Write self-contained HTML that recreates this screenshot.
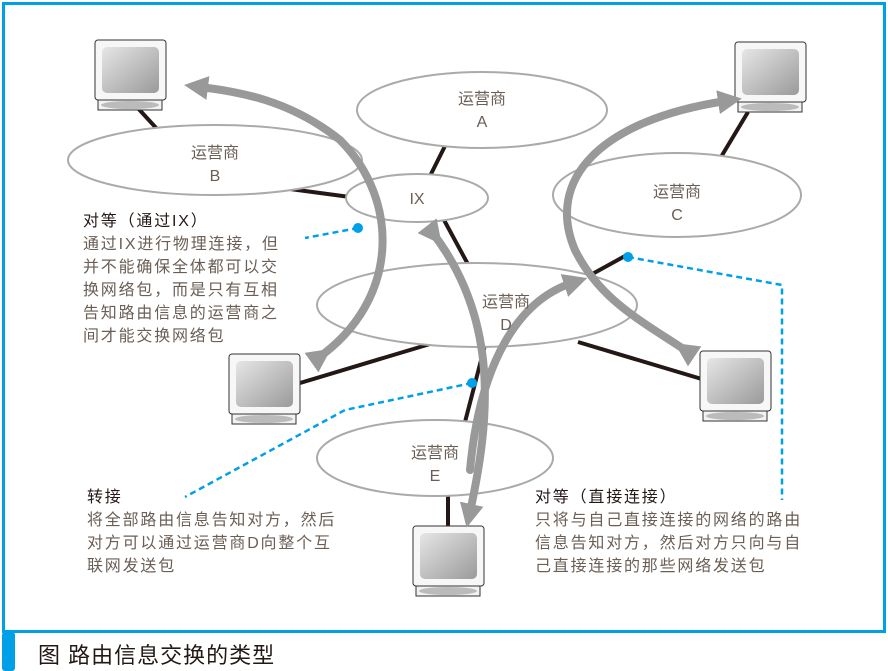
<!DOCTYPE html>
<html><head><meta charset="utf-8"><style>
body{margin:0;width:888px;height:671px;background:#fff;overflow:hidden;font-family:"Liberation Sans","Noto Sans CJK SC",sans-serif}
svg{position:absolute;left:0;top:0}
.t{position:absolute;font-size:16px;line-height:23px;color:#6a5e55;white-space:nowrap;letter-spacing:1.8px}
.t b{color:#231815;font-weight:normal}
</style></head><body>
<svg width="888" height="671" xmlns="http://www.w3.org/2000/svg">
<defs>
<linearGradient id="g" x1="0" y1="0" x2="1" y2="1"><stop offset="0" stop-color="#e6e6e6"/><stop offset="1" stop-color="#9a9a9a"/></linearGradient>
<g id="pc">
<rect x="0" y="2" width="71" height="60" rx="3" fill="#f7f7f7" stroke="#333" stroke-width="1"/>
<rect x="7" y="9" width="57" height="46" rx="5" fill="url(#g)"/>
<rect x="3" y="62" width="64" height="10" fill="#f2f2f2" stroke="#333" stroke-width="1"/>
<ellipse cx="35" cy="67" rx="29" ry="4" fill="#bbb"/>
</g>
<marker id="ah" markerWidth="3" markerHeight="3" refX="1" refY="1.5" orient="auto" markerUnits="strokeWidth"><path d="M0,0 L3,1.5 L0,3z" fill="#999"/></marker>
</defs>
<rect x="3.5" y="3.5" width="881" height="628" fill="none" stroke="#00a0e9" stroke-width="3"/>
<rect x="2" y="632" width="13" height="39" rx="3" fill="#00a0e9"/>
<g stroke="#231815" stroke-width="4">
<line x1="135" y1="105" x2="158" y2="130"/>
<line x1="290" y1="189" x2="350" y2="197"/>
<line x1="447" y1="142" x2="430" y2="176"/>
<line x1="444" y1="220" x2="470" y2="268"/>
<line x1="300" y1="383" x2="430" y2="344"/>
<line x1="485" y1="345" x2="465" y2="422"/>
<line x1="448" y1="494" x2="448" y2="528"/>
<line x1="578" y1="342" x2="705" y2="380"/>
<line x1="585" y1="278" x2="625" y2="256"/>
<line x1="748" y1="112" x2="718" y2="162"/>
</g>
<g fill="#fff" stroke="#aaa" stroke-width="2">
<ellipse cx="482" cy="110" rx="125" ry="38"/>
<ellipse cx="215" cy="160" rx="147" ry="35"/>
<ellipse cx="677" cy="195" rx="124" ry="42"/>
<ellipse cx="477" cy="305" rx="160" ry="42"/>
<ellipse cx="435" cy="458" rx="118" ry="38"/>
<ellipse cx="417" cy="198" rx="71" ry="24"/>
</g>
<use href="#pc" x="95" y="38"/>
<use href="#pc" x="735" y="40"/>
<use href="#pc" x="229" y="352"/>
<use href="#pc" x="700" y="349"/>
<use href="#pc" x="413" y="524"/>
<g fill="none" stroke="#999" stroke-width="8" stroke-linecap="round">
<path d="M318,358 C400,300 400,200 340,140 C290,100 240,92 200,87" marker-start="url(#ah)" marker-end="url(#ah)"/>
<path d="M432,232 C500,320 490,420 470,512" marker-start="url(#ah)" marker-end="url(#ah)"/>
<path d="M470,470 C480,360 520,300 572,283" marker-end="url(#ah)"/>
<path d="M688,352 C640,320 600,300 575,250 C545,180 600,120 726,101" marker-start="url(#ah)" marker-end="url(#ah)"/>
</g>
<g stroke="#00a0e9" stroke-width="2.5" stroke-dasharray="6,4" fill="none">
<path d="M358,228 L305,238"/>
<path d="M472,383 L345,410 L185,497"/>
<path d="M628,257 L782,285 L782,500"/>
</g>
<g fill="#00a0e9"><circle cx="358" cy="228" r="5"/><circle cx="472" cy="383" r="5"/><circle cx="628" cy="257" r="5"/></g>
<g font-size="16" fill="#6a5e55" text-anchor="middle" font-family="Liberation Sans,Noto Sans CJK SC,sans-serif">
<text x="482" y="104">运营商</text><text x="482" y="127">A</text>
<text x="215" y="158">运营商</text><text x="215" y="181">B</text>
<text x="417" y="204">IX</text>
<text x="677" y="197">运营商</text><text x="677" y="220">C</text>
<text x="506" y="307">运营商</text><text x="506" y="330">D</text>
<text x="435" y="458">运营商</text><text x="435" y="481">E</text>
</g>
</svg>
<div class="t" style="left:83px;top:210px"><b>对等（通过IX）</b><br>通过IX进行物理连接，但<br>并不能确保全体都可以交<br>换网络包，而是只有互相<br>告知路由信息的运营商之<br>间才能交换网络包</div>
<div class="t" style="left:87px;top:486px"><b>转接</b><br>将全部路由信息告知对方，然后<br>对方可以通过运营商D向整个互<br>联网发送包</div>
<div class="t" style="left:535px;top:486px"><b>对等（直接连接）</b><br>只将与自己直接连接的网络的路由<br>信息告知对方，然后对方只向与自<br>己直接连接的那些网络发送包</div>
<div style="position:absolute;left:38px;top:638px;font-size:22px;letter-spacing:1px;color:#231815;font-family:'Liberation Sans','Noto Sans CJK SC',sans-serif">图 路由信息交换的类型</div>
</body></html>
